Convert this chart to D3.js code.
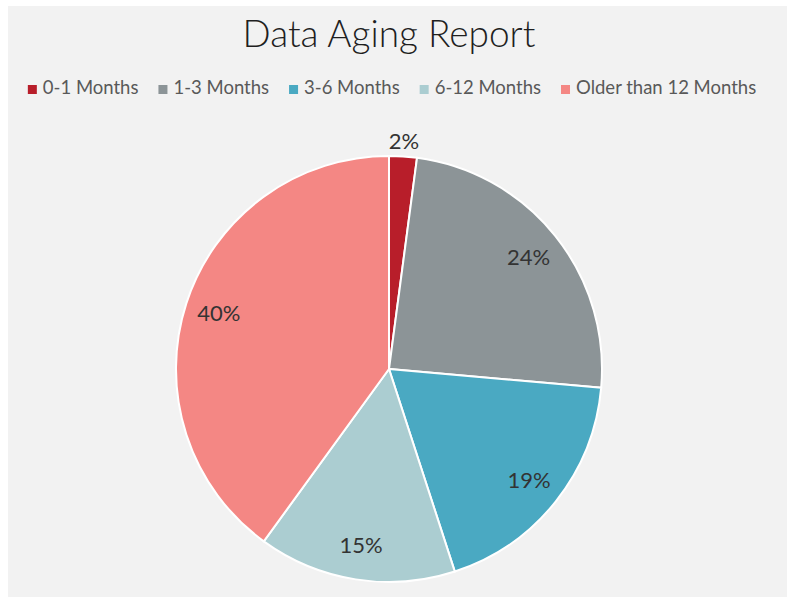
<!DOCTYPE html>
<html>
<head>
<meta charset="utf-8">
<script src="https://cdn.jsdelivr.net/npm/d3@7"></script>
<style>
  body { margin: 0; background: #fff; }
  text { font-family: "Lato", "Open Sans", sans-serif; }
</style>
</head>
<body>
<div id="chart"></div>
<script>
// Data Aging Report - pie chart

var categories = ["0-1 Months", "1-3 Months", "3-6 Months", "6-12 Months", "Older than 12 Months"];
var shares = [2.1, 24.3, 18.6, 15.0, 40.0];
var colors = ["#b81e2a", "#8c9497", "#4aa9c2", "#abcdd1", "#f48784"];

var width = 789, height = 598;

var svg = d3.select("#chart")
    .append("svg")
    .attr("width", width)
    .attr("height", height);

// chart area background
svg.append("rect")
    .attr("x", 8).attr("y", 6)
    .attr("width", 779).attr("height", 591)
    .attr("fill", "#f2f2f2");

// title
svg.append("text")
    .attr("x", 389).attr("y", 47)
    .attr("text-anchor", "middle")
    .attr("font-size", 37)
    .attr("font-weight", 300)
    .attr("fill", "#1f1f1f")
    .text("Data Aging Report");

// legend
var legend = svg.append("g");
var xpos = 0;
categories.forEach(function(c, i) {
    var item = legend.append("g").attr("transform", "translate(" + xpos + ",0)");
    item.append("rect")
        .attr("x", 0).attr("y", -9)
        .attr("width", 9).attr("height", 9)
        .attr("fill", colors[i]);
    var t = item.append("text")
        .attr("x", 15).attr("y", 0)
        .attr("font-size", 18.5)
        .attr("fill", "#595959")
        .text(c);
    xpos += 15 + t.node().getComputedTextLength() + 20;
});
var legW = xpos - 20;
legend.attr("transform", "translate(" + (392 - legW / 2) + ",94)");

// pie
var cx = 389, cy = 369, radius = 213;

var pie = d3.pie().sort(null).value(function(d) { return d; });
var arc = d3.arc().innerRadius(0).outerRadius(radius);
var labelArc = d3.arc().innerRadius(radius * 0.84).outerRadius(radius * 0.84);
var outArc = d3.arc().innerRadius(radius * 1.07).outerRadius(radius * 1.07);

var g = svg.append("g").attr("transform", "translate(" + cx + "," + cy + ")");
var arcs = pie(shares);

g.selectAll("path")
    .data(arcs)
    .enter()
    .append("path")
    .attr("d", arc)
    .attr("fill", function(d, i) { return colors[i]; })
    .attr("stroke", "#fff")
    .attr("stroke-width", 2);

var fmt = d3.format(".0f");
g.selectAll("text.lbl")
    .data(arcs)
    .enter()
    .append("text")
    .attr("class", "lbl")
    .attr("transform", function(d) {
        var p = (d.endAngle - d.startAngle) < 0.3 ? outArc.centroid(d) : labelArc.centroid(d);
        return "translate(" + p + ")";
    })
    .attr("dy", "0.35em")
    .attr("text-anchor", "middle")
    .attr("font-size", 22)
    .attr("fill", "#333333")
    .text(function(d) { return fmt(d.value) + "%"; });
</script>
</body>
</html>
